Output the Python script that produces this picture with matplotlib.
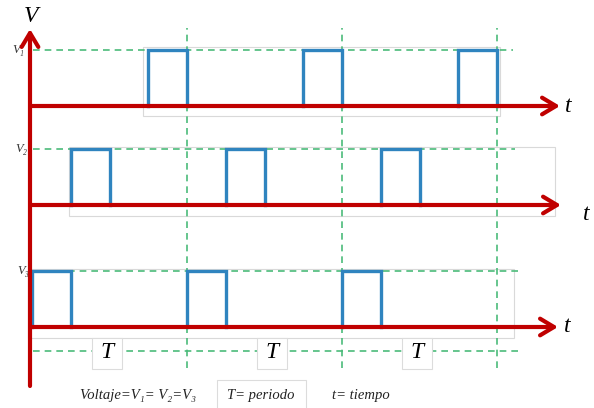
import matplotlib
matplotlib.use('Agg')
import matplotlib.pyplot as plt
from matplotlib.patches import Rectangle

# pulse trains: period, pulse width, phase of each channel (in periods)
T = 1.0
width = 0.25
V = 1.0
phases = [0.75, 0.25, 0.0]
n_pulses = 3
v_labels = ['V\u2081', 'V\u2082', 'V\u2083']
period_marks = [1, 2, 3]

red = '#c00000'
blue = '#2f84bf'
green = '#4cbb7a'
serif = ['Liberation Serif', 'DejaVu Serif']

# layout helpers (image pixel -> data)
x0, px_per_T, px_per_V = 32, 155, 56.5
def tx(p):
    return (p - x0) / px_per_T * T
def ty(p):
    return -p / px_per_V * V

baselines = [ty(106), ty(205), ty(327)]
arrow_ends = [560, 561, 558]
t_pos = [(568, 107), (586, 215), (567, 326)]
vline_right = [513, 515, 521]
label_pos = [(18, 50), (21, 149), (23, 271)]
boxes = [(143, 47, 500, 116), (69, 147, 555, 216), (28, 269, 514, 338)]

fig = plt.figure(figsize=(5.94, 4.08), dpi=100)
ax = fig.add_axes([0, 0, 1, 1])
ax.set_xlim(tx(0), tx(594))
ax.set_ylim(ty(408), ty(0))
ax.axis('off')

# faint boxes left over from the pasted pieces
for (l, t, r, b) in boxes:
    ax.add_patch(Rectangle((tx(l), ty(b)), tx(r) - tx(l), ty(t) - ty(b),
                           fill=False, ec='#d9d9d9', lw=0.8, zorder=1))

dash = (0, (4, 3))
# vertical period lines
for k in period_marks:
    ax.plot([k * T, k * T], [ty(368), ty(28)], color=green, lw=1.2, ls=dash, zorder=2)

for i, base in enumerate(baselines):
    # level line
    ax.plot([tx(33), tx(vline_right[i])], [base + V, base + V], color=green, lw=1.2, ls=dash, zorder=2)
    # pulses
    for k in range(n_pulses):
        a = phases[i] + k * T
        b = a + width
        ax.plot([a, a, b, b], [base, base + V, base + V, base], color=blue, lw=2.4,
                solid_joinstyle='miter', zorder=3)
    # time axis
    ax.annotate('', xy=(tx(arrow_ends[i]), base), xytext=(tx(30), base),
                arrowprops=dict(arrowstyle='->,head_length=1.0,head_width=0.6', color=red, lw=3,
                                shrinkA=0, shrinkB=0), zorder=4)
    ax.text(tx(t_pos[i][0]), ty(t_pos[i][1]), 't', fontsize=17, style='italic', family=serif,
            ha='center', va='center')
    ax.text(tx(label_pos[i][0]), ty(label_pos[i][1]), v_labels[i], fontsize=9, style='italic',
            family=serif, ha='center', va='center', color='#333333')

# voltage axis
ax.annotate('', xy=(tx(30), ty(29)), xytext=(tx(30), ty(386)),
            arrowprops=dict(arrowstyle='->,head_length=1.0,head_width=0.6', color=red, lw=3,
                            shrinkA=0, shrinkB=0), zorder=4)
ax.text(tx(31), ty(16), 'V', fontsize=17, style='italic', family=serif, ha='center', va='center')

# period marker line with T boxes
ax.plot([tx(33), tx(520)], [ty(351), ty(351)], color=green, lw=1.2, ls=dash, zorder=2)
for xc in [107, 272, 417]:
    ax.add_patch(Rectangle((tx(xc - 15), ty(369)), tx(30) - tx(0), ty(338) - ty(369),
                           fc='white', ec='#dcdcdc', lw=0.8, zorder=3))
    ax.text(tx(xc), ty(353), 'T', fontsize=17, style='italic', family=serif,
            ha='center', va='center', zorder=5)

# legend texts
ax.add_patch(Rectangle((tx(217), ty(410)), tx(306) - tx(217), ty(380) - ty(410),
                       fc='white', ec='#dcdcdc', lw=0.8, zorder=3))
ax.text(tx(80), ty(396), 'Voltaje=V\u2081= V\u2082=V\u2083', fontsize=10.5, style='italic',
        family=serif, ha='left', va='center', color='#222222')
ax.text(tx(227), ty(396), 'T= periodo', fontsize=10.5, style='italic', family=serif,
        ha='left', va='center', color='#222222', zorder=5)
ax.text(tx(332), ty(396), 't= tiempo', fontsize=10.5, style='italic', family=serif,
        ha='left', va='center', color='#222222')

fig.savefig('out.png', dpi=100)
